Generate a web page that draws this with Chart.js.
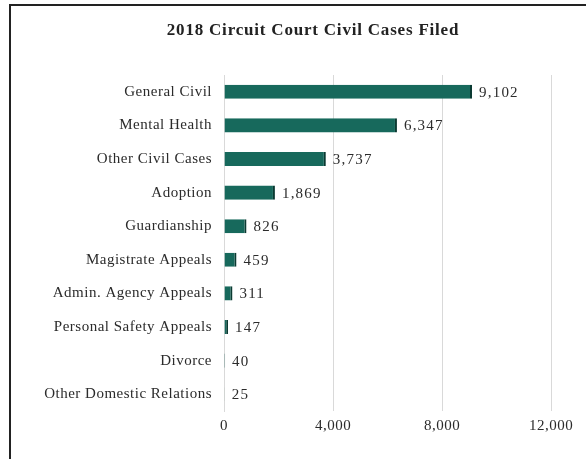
<!DOCTYPE html>
<html>
<head>
<meta charset="utf-8">
<script src="https://cdn.jsdelivr.net/npm/chart.js@4/dist/chart.umd.min.js"></script>
<style>
  body { margin: 0; background: #fff; }
  #wrap { position: relative; width: 586px; height: 459px; }
  #frame { position: absolute; left: 9px; top: 4px; right: 0; bottom: 0; border-left: 2px solid #222; border-top: 2px solid #222; pointer-events: none; }
  canvas { position: absolute; left: 0; top: 0; }
</style>
</head>
<body>
<div id="wrap">
  <canvas id="courtChart" width="586" height="459"></canvas>
  <div id="frame"></div>
</div>
<script>
const categories = ['General Civil', 'Mental Health', 'Other Civil Cases', 'Adoption', 'Guardianship',
    'Magistrate Appeals', 'Admin. Agency Appeals', 'Personal Safety Appeals', 'Divorce', 'Other Domestic Relations'];
const casesFiled = [9102, 6347, 3737, 1869, 826, 459, 311, 147, 40, 25];
const xTicks = [0, 4000, 8000, 12000];
const chartTitle = '2018 Circuit Court Civil Cases Filed';

const serif = '"Liberation Serif", "Times New Roman", serif';

// the scanned original has slightly loose letter spacing
const spacing = {
    id: 'spacing',
    beforeInit(chart) { chart.ctx.letterSpacing = '0.5px'; },
    beforeDraw(chart) { chart.ctx.letterSpacing = '0.5px'; }
};

// title drawn by hand so it can sit over the bars rather than the whole canvas
const titleText = {
    id: 'titleText',
    afterDraw(chart) {
        const ctx = chart.ctx;
        ctx.save();
        ctx.font = 'bold 17px ' + serif;
        ctx.letterSpacing = '0.8px';
        ctx.fillStyle = '#222';
        ctx.textAlign = 'center';
        ctx.textBaseline = 'middle';
        ctx.fillText(chartTitle, 313, 31);
        ctx.restore();
    }
};

// values written at the end of each bar
const valueLabels = {
    id: 'valueLabels',
    afterDatasetsDraw(chart) {
        const ctx = chart.ctx;
        const meta = chart.getDatasetMeta(0);
        ctx.save();
        ctx.font = '15px ' + serif;
        ctx.letterSpacing = '1.2px';
        ctx.fillStyle = '#2b2b2b';
        ctx.textAlign = 'left';
        ctx.textBaseline = 'middle';
        meta.data.forEach(function (bar, i) {
            ctx.fillText(casesFiled[i].toLocaleString('en-US'), bar.x + 7, bar.y + 1);
        });
        ctx.restore();
    }
};

function barFill(context) {
    const chart = context.chart;
    const el = context.element;
    if (!el || el.y === undefined) return '#17695c';
    const h = el.height || 14;
    const g = chart.ctx.createLinearGradient(0, el.y - h / 2, 0, el.y + h / 2);
    g.addColorStop(0, '#2a9582');
    g.addColorStop(0.35, '#17695c');
    g.addColorStop(1, '#0c3f36');
    return g;
}

new Chart(document.getElementById('courtChart'), {
    type: 'bar',
    data: {
        labels: categories,
        datasets: [{
            data: casesFiled,
            backgroundColor: barFill,
            borderColor: '#0b3a32',
            borderWidth: { right: 2 },
            borderSkipped: false,
            barPercentage: 0.84,
            categoryPercentage: 0.5
        }]
    },
    plugins: [spacing, valueLabels, titleText],
    options: {
        indexAxis: 'y',
        responsive: false,
        animation: false,
        layout: { padding: { left: 10, right: 35, top: 75, bottom: 18 } },
        plugins: {
            legend: { display: false },
            tooltip: { enabled: false },
            title: { display: false }
        },
        scales: {
            x: {
                min: 0,
                max: 12000,
                afterBuildTicks: function (scale) {
                    scale.ticks = xTicks.map(v => ({ value: v }));
                },
                grid: { color: '#d9d9d9', lineWidth: 1, drawTicks: false },
                border: { display: false },
                ticks: {
                    padding: 6,
                    color: '#2b2b2b',
                    font: { family: serif, size: 15 },
                    callback: v => v.toLocaleString('en-US')
                }
            },
            y: {
                afterFit: function (scale) { scale.width = 214; },
                grid: { display: false, drawTicks: false },
                border: { display: true, color: '#d9d9d9', width: 1 },
                ticks: {
                    padding: 12,
                    color: '#2b2b2b',
                    font: { family: serif, size: 15 }
                }
            }
        }
    }
});
</script>
</body>
</html>
